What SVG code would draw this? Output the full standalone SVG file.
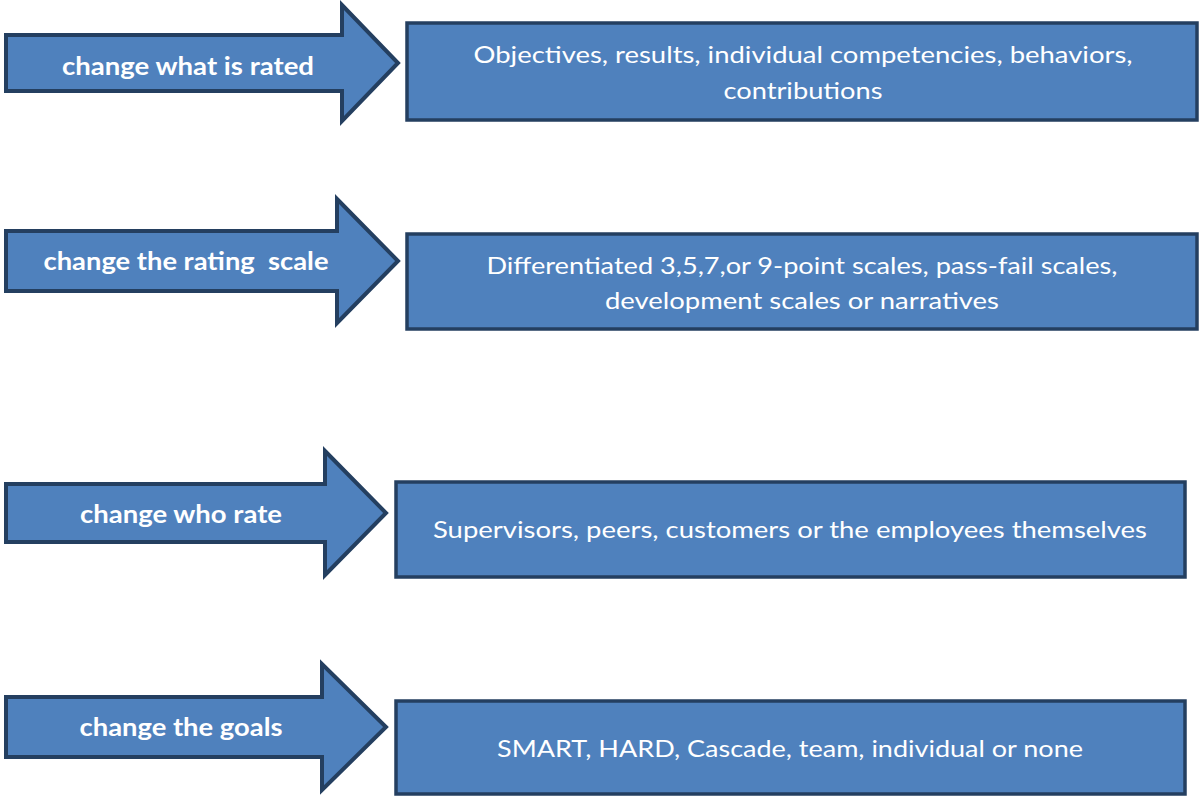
<svg xmlns="http://www.w3.org/2000/svg" width="1199" height="796" viewBox="0 0 1199 796">
  <style>
    .arrow { fill: #4F81BD; stroke: #243F60; stroke-width: 4; stroke-linejoin: miter; }
    .box { fill: #4F81BD; stroke: #243F60; stroke-width: 3.5; }
    .lbl { font-family: Lato, "Open Sans", "Liberation Sans", sans-serif; font-weight: bold; font-size: 24px; fill: #FFFFFF; }
    .txt { font-family: Lato, "Open Sans", "Liberation Sans", sans-serif; font-size: 24px; fill: #FFFFFF; }
  </style>
  <defs>
    <clipPath id="clip-rated">
      <rect x="0" y="0" width="400" height="79"/>
    </clipPath>
  </defs>
  <rect width="1199" height="796" fill="#FFFFFF"/>

  <!-- row 1: what is rated -->
  <g id="arrow-rated">
    <polygon class="arrow" points="6,35 342,35 342,5 398,63 342,121 342,91 6,91"/>
    <text class="lbl" x="188" y="75" text-anchor="middle" textLength="252" lengthAdjust="spacingAndGlyphs" clip-path="url(#clip-rated)">change what is rated</text>
  </g>
  <g id="box-rated">
    <rect class="box" x="407" y="23" width="790" height="97"/>
    <text class="txt" x="803" y="63" text-anchor="middle" textLength="659" lengthAdjust="spacingAndGlyphs">Objectives, results, individual competencies, behaviors,</text>
    <text class="txt" x="803" y="99" text-anchor="middle" textLength="159" lengthAdjust="spacingAndGlyphs">contributions</text>
  </g>

  <!-- row 2: rating scale -->
  <g id="arrow-scale">
    <polygon class="arrow" points="6,231 337,231 337,199 398,261 337,323 337,291 6,291"/>
    <text class="lbl" x="186" y="270" text-anchor="middle" textLength="285" lengthAdjust="spacingAndGlyphs" xml:space="preserve">change the rating  scale</text>
  </g>
  <g id="box-scale">
    <rect class="box" x="407" y="234" width="790" height="95"/>
    <text class="txt" x="802" y="274" text-anchor="middle" textLength="631" lengthAdjust="spacingAndGlyphs">Differentiated 3,5,7,or 9-point scales, pass-fail scales,</text>
    <text class="txt" x="802" y="309" text-anchor="middle" textLength="394" lengthAdjust="spacingAndGlyphs">development scales or narratives</text>
  </g>

  <!-- row 3: who rates -->
  <g id="arrow-who">
    <polygon class="arrow" points="6,484 325,484 325,451 386,513 325,575 325,542 6,542"/>
    <text class="lbl" x="181" y="523" text-anchor="middle" textLength="202" lengthAdjust="spacingAndGlyphs">change who rate</text>
  </g>
  <g id="box-who">
    <rect class="box" x="396" y="482" width="789" height="95"/>
    <text class="txt" x="790" y="538" text-anchor="middle" textLength="714" lengthAdjust="spacingAndGlyphs">Supervisors, peers, customers or the employees themselves</text>
  </g>

  <!-- row 4: goals -->
  <g id="arrow-goals">
    <polygon class="arrow" points="6,697 322,697 322,664 386,727 322,790 322,757 6,757"/>
    <text class="lbl" x="181" y="736" text-anchor="middle" textLength="203" lengthAdjust="spacingAndGlyphs">change the goals</text>
  </g>
  <g id="box-goals">
    <rect class="box" x="396" y="701" width="789" height="93"/>
    <text class="txt" x="790" y="757" text-anchor="middle" textLength="586" lengthAdjust="spacingAndGlyphs">SMART, HARD, Cascade, team, individual or none</text>
  </g>
</svg>
